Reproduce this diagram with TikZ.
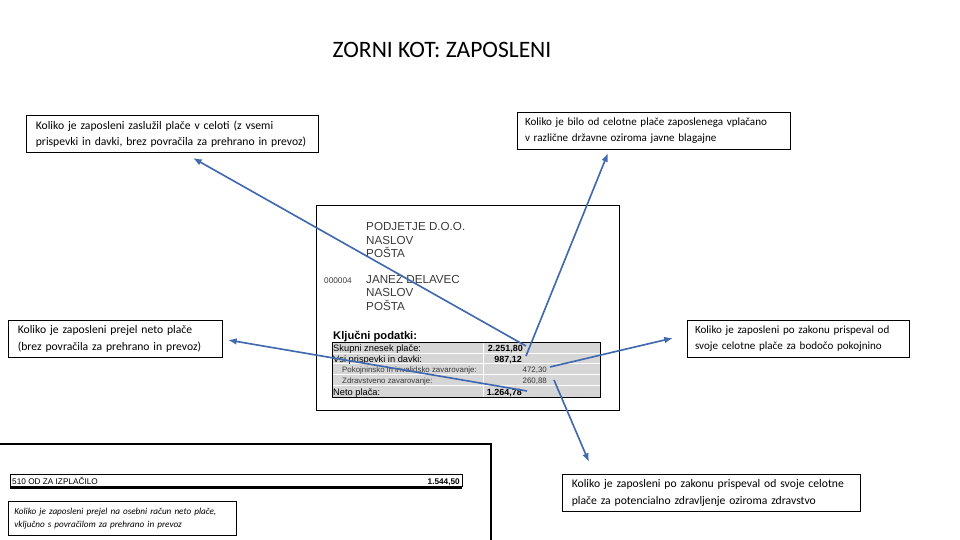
\documentclass[tikz,border=0pt]{standalone}
\usepackage{fontspec}
\setmainfont{Carlito}
\newfontfamily\docfont{Liberation Sans}
\usetikzlibrary{arrows.meta,positioning}
\definecolor{arrowblue}{HTML}{4169B0}
\definecolor{rowgray}{HTML}{D6D6D6}
\definecolor{doctext}{HTML}{3A3A3A}

\begin{document}
\begin{tikzpicture}[
    x=0.85pt, y=-0.85pt,
    every node/.style={inner sep=0pt},
    note/.style={draw, line width=0.7pt, anchor=north west, align=left, inner xsep=8pt, minimum height=31.5pt, font=\fontsize{9.9}{13.8}\selectfont},
    narrow/.style={inner xsep=6.5pt, font=\fontsize{9.4}{13.8}\selectfont},
    doc/.style={anchor=base west, font=\docfont\fontsize{9.9}{11}\selectfont, text=doctext},
    row/.style={anchor=base west, font=\docfont\fontsize{7.9}{8}\selectfont},
    subrow/.style={anchor=base west, font=\docfont\fontsize{6.7}{7}\selectfont, text=doctext},
    pointer/.style={-{Latex[length=2.6mm,width=2mm]}, arrowblue, line width=1.4pt}
]
\useasboundingbox (0,0) rectangle (960,540);

\node (title) at (442,50) {\fontsize{20}{24}\selectfont ZORNI KOT: ZAPOSLENI};

% questions
\node[note, text width=232pt] (celota) at (26,115) {Koliko je zaposleni zaslužil plače v celoti (z vsemi\\prispevki in davki, brez povračila za prehrano in prevoz)};
\node[note, narrow, text width=219pt] (blagajne) at (517,112) {Koliko je bilo od celotne plače zaposlenega vplačano\\v različne državne oziroma javne blagajne};
\node[note, text width=166pt] (neto) at (8,320) {Koliko je zaposleni prejel neto plače\\(brez povračila za prehrano in prevoz)};
\node[note, narrow, text width=176pt] (pokojnina) at (687,320) {Koliko je zaposleni po zakonu prispeval od\\svoje celotne plače za bodočo pokojnino};
\node[note, text width=237pt] (zdravstvo) at (562,474) {Koliko je zaposleni po zakonu prispeval od svoje celotne\\plače za potencialno zdravljenje oziroma zdravstvo};

% payslip
\draw[line width=0.8pt] (316,205) rectangle (619,410);
\node[doc] (podjetje) at (366,230) {PODJETJE D.O.O.};
\node[doc] (naslov1) at (366,244) {NASLOV};
\node[doc] (posta1) at (366,257) {POŠTA};
\node[doc, font=\docfont\fontsize{7}{8}\selectfont] (sifra) at (324,283) {000004};
\node[doc] (delavec) at (366,283) {JANEZ DELAVEC};
\node[doc] (naslov2) at (366,296) {NASLOV};
\node[doc] (posta2) at (366,310) {POŠTA};
\node[doc, font=\docfont\bfseries\fontsize{9.5}{12}\selectfont, text=black] (kljucni) at (333,339) {Ključni podatki:};

\fill[rowgray] (332,342) rectangle (600,397);
\foreach \y in {353,363,374,385}
  \draw[white, line width=0.8pt] (332,\y) -- (600,\y);
\draw[white, line width=0.8pt] (483,342) -- (483,397);
\draw[line width=0.6pt] (332,342) rectangle (600,397);

\node[row] (skupni) at (333,351) {Skupni znesek plače:};
\node[row, anchor=base east, font=\docfont\bfseries\fontsize{7.6}{8}\selectfont] (skupnival) at (523,351) {2.251,80};
\node[row] (prispevki) at (333,362) {Vsi prispevki in davki:};
\node[row, anchor=base east, font=\docfont\bfseries\fontsize{7.6}{8}\selectfont] (prispevkival) at (522,362) {987,12};
\node[subrow] (pokojninsko) at (342,372) {Pokojninsko in invalidsko zavarovanje:};
\node[subrow, anchor=base east] (pokojninskoval) at (547,372) {472,30};
\node[subrow] (zdravstveno) at (342,383) {Zdravstveno zavarovanje:};
\node[subrow, anchor=base east] (zdravstvenoval) at (547,383) {260,88};
\node[row] (netoplaca) at (333,395) {Neto plača:};
\node[row, anchor=base east, font=\docfont\bfseries\fontsize{7.6}{8}\selectfont] (netoval) at (522,395) {1.264,78};

% bottom left clipping
\draw[line width=2.4pt] (0,444) -- (491,444) -- (491,541);
\draw[line width=0.6pt] (10,474) rectangle (462,486);
\draw[line width=1pt] (10,488) -- (462,488);
\node[row, font=\docfont\fontsize{7}{8}\selectfont] (izplacilo) at (12,484) {510 OD ZA IZPLAČILO};
\node[row, anchor=base east, font=\docfont\bfseries\fontsize{7}{8}\selectfont] (izplaciloval) at (460,484) {1.544,50};
\node[note, text width=184pt, inner xsep=5pt, minimum height=29pt, font=\itshape\fontsize{7.8}{11}\selectfont] (racun) at (8,501) {Koliko je zaposleni prejel na osebni račun neto plače,\\vključno s povračilom za prehrano in prevoz};

% pointers
\coordinate (t1) at (526,346); \coordinate (h1) at (193,158);
\coordinate (t2) at (526,356); \coordinate (h2) at (608,153);
\coordinate (t3) at (527,391); \coordinate (h3) at (228,340);
\coordinate (t4) at (550,367); \coordinate (h4) at (673,338);
\coordinate (t5) at (554,380); \coordinate (h5) at (589,462);
\draw[pointer] (t1) -- (h1);
\draw[pointer] (t2) -- (h2);
\draw[pointer] (t3) -- (h3);
\draw[pointer] (t4) -- (h4);
\draw[pointer] (t5) -- (h5);
\end{tikzpicture}
\end{document}
